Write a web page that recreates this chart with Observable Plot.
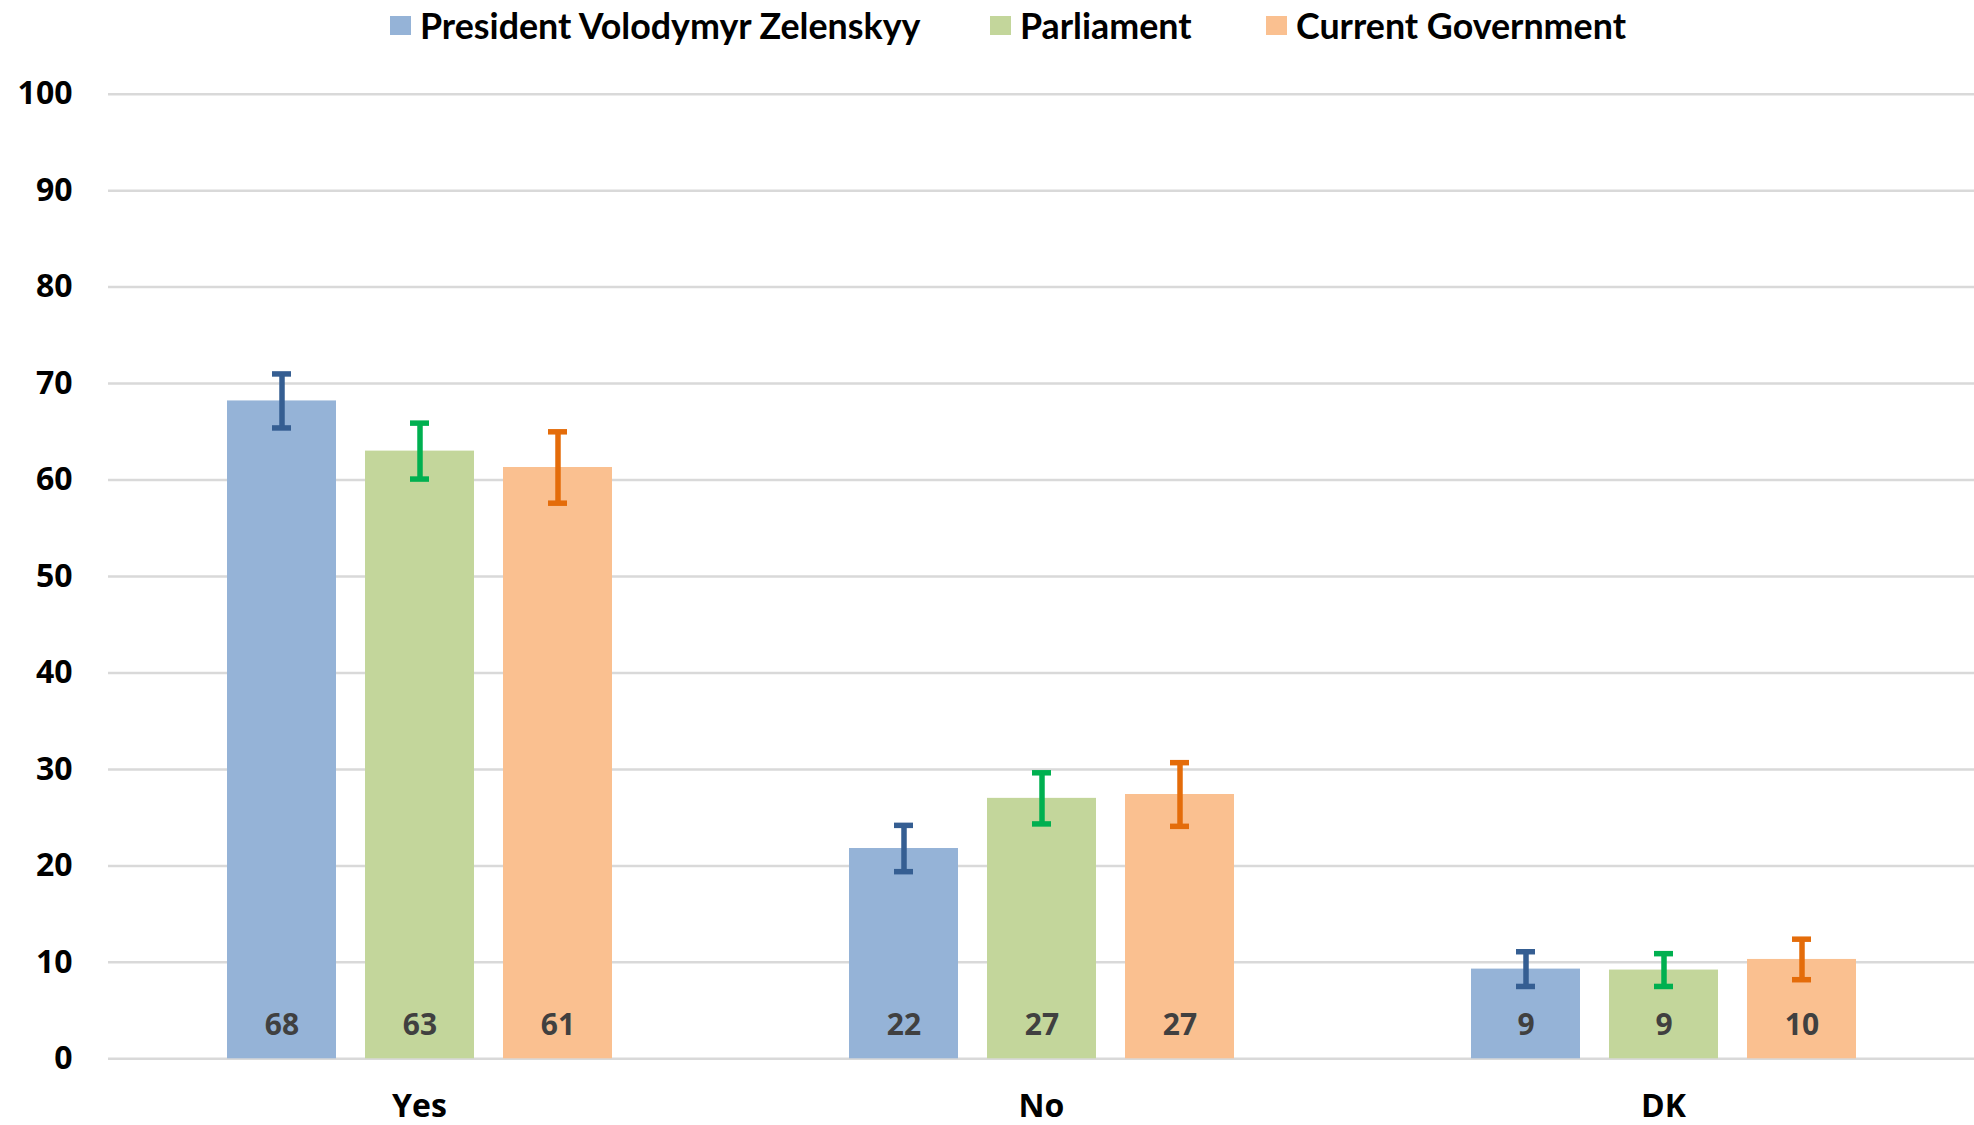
<!DOCTYPE html>
<html>
<head>
<meta charset="utf-8">
<script src="https://cdn.jsdelivr.net/npm/d3@7"></script>
<script src="https://cdn.jsdelivr.net/npm/@observablehq/plot@0.6"></script>
<style>
  html, body { margin: 0; padding: 0; background: #fff; }
  #wrap { width: 1974px; height: 1125px; position: relative; overflow: hidden; }
  #legend { position: relative; height: 50px; font-family: Lato, "Open Sans", sans-serif; font-weight: bold; font-size: 35.8px; color: #000; }
  .item { position: absolute; top: 0; height: 50px; display: flex; align-items: center; white-space: nowrap; }
  .sw { width: 21px; height: 19px; margin-right: 9px; }
</style>
</head>
<body>
<div id="wrap">
  <div id="legend"></div>
  <div id="chart"></div>
</div>
<script>
// ---- data ----
const categories = ["Yes", "No", "DK"];
const series = ["President Volodymyr Zelenskyy", "Parliament", "Current Government"];
const zelenskyy = [68.2, 21.8, 9.3];
const parliament = [63.0, 27.0, 9.2];
const government = [61.3, 27.4, 10.3];
const errZelenskyy = [2.8, 2.4, 1.8];
const errParliament = [2.9, 2.65, 1.7];
const errGovernment = [3.7, 3.3, 2.1];
const yTicks = [0, 10, 20, 30, 40, 50, 60, 70, 80, 90, 100];

// ---- styles ----
const barColors = ["#95B3D7", "#C3D69B", "#FAC090"];
const errColors = ["#355E92", "#00B050", "#E46C0A"];
const legendLeft = [390, 990, 1266];

const valuesBySeries = [zelenskyy, parliament, government];
const errsBySeries = [errZelenskyy, errParliament, errGovernment];
const table = [];
categories.forEach((c, i) => {
  series.forEach((s, j) => {
    table.push({category: c, series: s, value: valuesBySeries[j][i], err: errsBySeries[j][i]});
  });
});

// legend
const legend = document.getElementById("legend");
series.forEach((s, j) => {
  const it = document.createElement("div");
  it.className = "item";
  it.style.left = legendLeft[j] + "px";
  const sw = document.createElement("div");
  sw.className = "sw";
  sw.style.background = barColors[j];
  const tx = document.createElement("span");
  tx.textContent = s;
  it.appendChild(sw); it.appendChild(tx);
  legend.appendChild(it);
});

const errMarks = [];
series.forEach((s, j) => {
  errMarks.push(Plot.ruleX(table, {
    filter: d => d.series === s,
    x: "series", y1: d => d.value - d.err, y2: d => d.value + d.err,
    stroke: errColors[j], strokeWidth: 5.5
  }));
  errMarks.push(Plot.tickY(table, {
    filter: d => d.series === s,
    x: "series", y: d => d.value + d.err,
    stroke: errColors[j], strokeWidth: 5.5, insetLeft: 45, insetRight: 45
  }));
  errMarks.push(Plot.tickY(table, {
    filter: d => d.series === s,
    x: "series", y: d => d.value - d.err,
    stroke: errColors[j], strokeWidth: 5.5, insetLeft: 45, insetRight: 45
  }));
});

const chart = Plot.plot({
  width: 1974,
  height: 1075,
  marginTop: 43.7,
  marginBottom: 66.7,
  marginLeft: 108,
  marginRight: 0,
  style: {fontFamily: "'Open Sans', Lato, sans-serif", fontSize: "32px", fontWeight: "bold", color: "#000", background: "#fff"},
  facet: {data: table, x: "category"},
  fx: {domain: categories, padding: 0, axis: "bottom", tickSize: 0, tickPadding: 35, label: null},
  x: {domain: series, paddingInner: 0.213, paddingOuter: 0.848, axis: null},
  y: {domain: [0, 100], ticks: yTicks, tickSize: 0, tickPadding: 36, label: null},
  color: {domain: series, range: barColors},
  marks: [
    Plot.ruleY(yTicks, {stroke: "#d9d9d9", strokeWidth: 2.5}),
    Plot.barY(table, {x: "series", y: "value", fill: "series"}),
    ...errMarks,
    Plot.text(table, {
      x: "series", y: () => 0, text: d => d3.format("d")(Math.round(d.value)),
      dy: -33, fontSize: 30, fontWeight: "bold", fontFamily: "'Open Sans', sans-serif",
      fill: "#404040", lineAnchor: "middle"
    })
  ]
});
document.getElementById("chart").appendChild(chart);
</script>
</body>
</html>
